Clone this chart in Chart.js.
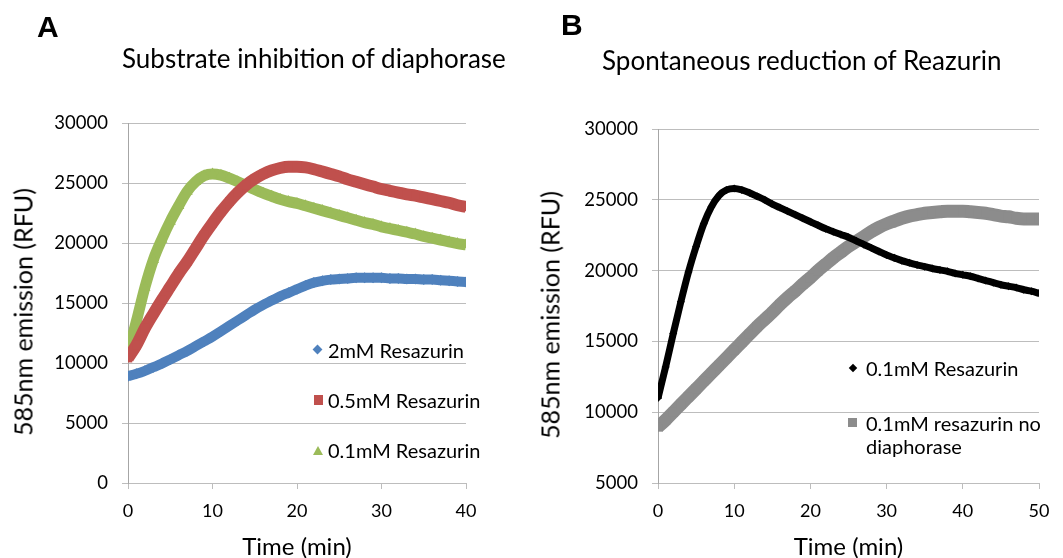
<!DOCTYPE html>
<html>
<head>
<meta charset="utf-8">
<script src="https://cdn.jsdelivr.net/npm/chart.js@4.4.1/dist/chart.umd.min.js"></script>
<style>
  html, body { margin: 0; padding: 0; background: #fff; }
  #wrap { position: relative; width: 1063px; height: 558px; overflow: hidden; background: #fff; font-family: Lato, "Open Sans", sans-serif; color: #000; }
  canvas { position: absolute; top: 0; }
  .txt { position: absolute; white-space: nowrap; line-height: 1; }
  .letter { font-family: "Liberation Sans", Arial, sans-serif; font-weight: bold; font-size: 30px; }
  .title { font-size: 26px; }
  .leg { font-size: 20px; }
  .ytitle { position: absolute; white-space: nowrap; line-height: 1; font-size: 25px; transform: translate(-50%, -50%) rotate(-90deg); }
  .mk { position: absolute; }
</style>
</head>
<body>
<div id="wrap">
  <canvas id="cA" width="531" height="558" style="left:0"></canvas>
  <canvas id="cB" width="532" height="558" style="left:531px"></canvas>

  <div class="txt letter" style="left:37px; top:12px;">A</div>
  <div class="txt letter" style="left:561px; top:10px;">B</div>
  <div class="txt title" style="left:122px; top:45px;">Substrate inhibition of diaphorase</div>
  <div class="txt title" style="left:602px; top:47px;">Spontaneous reduction of Reazurin</div>

  <div class="ytitle" style="left:23px; top:312px;">585nm emission (RFU)</div>
  <div class="ytitle" style="left:550px; top:315px;">585nm emission (RFU)</div>

  <!-- legend A -->
  <div class="mk" style="left:314px; top:346px; width:7px; height:7px; background:#4f81bd; transform:rotate(45deg);"></div>
  <div class="txt leg" style="left:328px; top:340px;">2mM Resazurin</div>
  <div class="mk" style="left:314px; top:395px; width:9px; height:10px; background:#c0504d;"></div>
  <div class="txt leg" style="left:328px; top:390px;">0.5mM Resazurin</div>
  <div class="mk" style="left:313px; top:446px; width:0; height:0; border-left:5px solid transparent; border-right:5px solid transparent; border-bottom:9px solid #9bbb59;"></div>
  <div class="txt leg" style="left:328px; top:440px;">0.1mM Resazurin</div>

  <!-- legend B -->
  <div class="mk" style="left:850px; top:365px; width:6px; height:6px; background:#000; transform:rotate(45deg);"></div>
  <div class="txt leg" style="left:866px; top:358px;">0.1mM Resazurin</div>
  <div class="mk" style="left:848px; top:418px; width:9px; height:9px; background:#8c8c8c;"></div>
  <div class="txt leg" style="left:866px; top:412px; line-height:23px; white-space:normal; width:195px;">0.1mM resazurin no<br>diaphorase</div>
</div>
<script>
// ---------- Panel A data ----------
const timeA = [0,1,2,3,4,5,6,7,8,9,10,11,12,13,14,15,16,17,18,19,20,21,22,23,24,25,26,27,28,29,30,31,32,33,34,35,36,37,38,39,40];
const resazurin2mM = [8900,9100,9350,9650,9950,10300,10650,11000,11400,11800,12200,12650,13100,13550,14000,14450,14850,15200,15550,15850,16150,16450,16700,16850,16950,17000,17050,17100,17100,17100,17100,17050,17050,17000,17000,16950,16950,16900,16850,16800,16750];
const resazurin05mM = [10400,11500,12900,14100,15250,16350,17450,18450,19550,20650,21650,22600,23450,24200,24850,25350,25750,26050,26250,26350,26350,26300,26150,25950,25750,25550,25300,25100,24900,24700,24500,24350,24200,24050,23950,23800,23650,23500,23350,23150,23000];
const resazurin01mM = [10800,13500,16300,18600,20300,21800,23100,24300,25100,25600,25750,25650,25400,25100,24800,24450,24150,23900,23650,23450,23300,23100,22900,22700,22500,22300,22100,21900,21700,21550,21350,21200,21050,20900,20750,20550,20400,20250,20100,19950,19850];
const ticksAX = [0,10,20,30,40];
const ticksAY = [0,5000,10000,15000,20000,25000,30000];

// ---------- Panel B data ----------
const timeB = [0,1,2,3,4,5,6,7,8,9,10,11,12,13,14,15,16,17,18,19,20,21,22,23,24,25,26,27,28,29,30,31,32,33,34,35,36,37,38,39,40,41,42,43,44,45,46,47,48,49,50];
const resazurin01mM_B = [11000,13200,15550,17800,19900,21700,23300,24500,25300,25700,25800,25700,25500,25250,25000,24700,24450,24200,23950,23700,23450,23200,22950,22750,22550,22350,22100,21850,21600,21350,21100,20900,20700,20550,20400,20280,20150,20050,19950,19800,19700,19600,19450,19300,19150,19000,18900,18800,18650,18550,18400];
const noDiaphorase = [8950,9450,10000,10550,11100,11650,12200,12750,13300,13850,14400,14950,15500,16050,16550,17050,17600,18100,18550,19050,19500,20000,20450,20900,21300,21700,22050,22400,22750,23050,23300,23500,23700,23850,23950,24050,24100,24150,24200,24200,24200,24150,24100,24050,23950,23850,23800,23700,23650,23650,23650];
const ticksBX = [0,10,20,30,40,50];
const ticksBY = [5000,10000,15000,20000,25000,30000];

const FONT = "Lato, 'Open Sans', sans-serif";
const pts = (xs, ys) => xs.map((x, i) => ({ x: x, y: ys[i] }));

function series(label, xs, ys, color, style, r, w) {
  return {
    label: label,
    data: pts(xs, ys),
    borderColor: color,
    backgroundColor: color,
    borderWidth: w,
    pointStyle: style,
    pointRadius: r,
    pointBorderWidth: 0,
    pointHoverRadius: r,
    cubicInterpolationMode: 'monotone',
    showLine: true
  };
}

function makeChart(id, datasets, xr, yr, xt, yt, pad) {
  return new Chart(document.getElementById(id), {
    type: 'scatter',
    data: { datasets: datasets },
    options: {
      responsive: false,
      animation: false,
      events: [],
      layout: { padding: { left: pad.left, right: pad.right, top: pad.top, bottom: -4 } },
      plugins: { legend: { display: false }, tooltip: { enabled: false }, title: { display: false } },
      scales: {
        x: {
          type: 'linear', min: xr[0], max: xr[1],
          afterBuildTicks: s => { s.ticks = xt.map(v => ({ value: v })); },
          afterFit: s => { s.height = 79; },
          grid: { drawOnChartArea: false, drawTicks: true, tickLength: 6, color: '#bdbdbd' },
          border: { display: true, color: '#bdbdbd', width: 1 },
          ticks: { padding: 11, color: '#000', font: { family: FONT, size: 18 }, callback: v => String(v) },
          title: { display: true, text: 'Time (min)', color: '#000', font: { family: FONT, size: 24 }, padding: { top: 0, bottom: 0 } }
        },
        y: {
          type: 'linear', min: yr[0], max: yr[1],
          afterBuildTicks: s => { s.ticks = yt.map(v => ({ value: v })); },
          afterFit: s => { s.width = pad.yw; },
          grid: { drawOnChartArea: true, drawTicks: true, tickLength: 6, color: '#bdbdbd' },
          border: { display: true, color: '#a6a6a6', width: 1 },
          ticks: { padding: 14, color: '#000', font: { family: FONT, size: 18.5 }, callback: v => String(v) },
          title: { display: false }
        }
      }
    }
  });
}

makeChart('cA', [
  series('2mM Resazurin', timeA, resazurin2mM, '#4f81bd', 'rectRot', 5.5, 10),
  series('0.5mM Resazurin', timeA, resazurin05mM, '#c0504d', 'rect', 6, 12),
  series('0.1mM Resazurin', timeA, resazurin01mM, '#9bbb59', 'triangle', 6.5, 11)
], [0, 40], [0, 30000], ticksAX, ticksAY, { left: 0, right: 65, top: 123, yw: 128 });

makeChart('cB', [
  series('0.1mM Resazurin', timeB, resazurin01mM_B, '#000000', 'rectRot', 4, 7),
  series('0.1mM resazurin no diaphorase', timeB, noDiaphorase, '#8c8c8c', 'rect', 6.5, 13)
], [0, 50], [5000, 30000], ticksBX, ticksBY, { left: 0, right: 24, top: 129, yw: 127 });
</script>
</body>
</html>
